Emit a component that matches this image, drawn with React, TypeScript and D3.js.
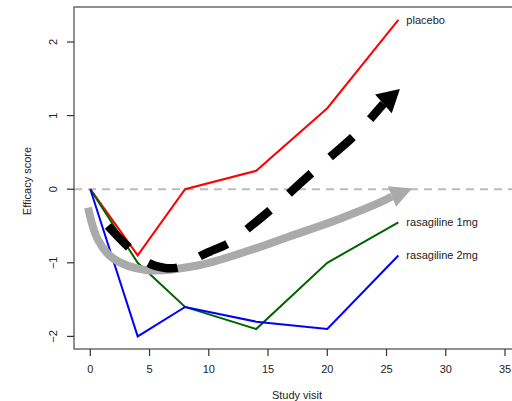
import React from "react";
import * as d3 from "d3";

const visits = [0, 4, 8, 14, 20, 26];
const placebo = [0, -0.9, 0, 0.25, 1.1, 2.3];
const rasagiline1 = [0, -1.0, -1.6, -1.9, -1.0, -0.45];
const rasagiline2 = [0, -2.0, -1.6, -1.8, -1.9, -0.9];
const seriesNames = ["placebo", "rasagiline 1mg", "rasagiline 2mg"];
const seriesColors = ["#ff0000", "#006400", "#0000ff"];
const xTicks = [0, 5, 10, 15, 20, 25, 30, 35];
const yTicks = [-2, -1, 0, 1, 2];

// annotation arrows, in data coordinates (visit, score)
const grayArrowPath: [number, number][] = [
  [-0.19, -0.25], [0.65, -0.69], [1.92, -0.94], [4.79, -1.1], [9.26, -1.03],
  [13.48, -0.83], [16.85, -0.64], [21.07, -0.4], [24.45, -0.18], [25.46, -0.1],
];
const grayArrowTip: [number, number] = [27.15, 0.01];
const blackArrowPath: [number, number][] = [
  [1.49, -0.5], [3.18, -0.78], [4.87, -1.0], [6.3, -1.07], [7.49, -1.06],
  [9.51, -0.89], [11.81, -0.72], [13.48, -0.51], [15.5, -0.24], [18.96, 0.26],
  [22.5, 0.76], [24.74, 1.16],
];
const blackArrowTip: [number, number] = [26.13, 1.36];

const W = 512, H = 401;
const box = { left: 74, top: 7, right: 534, bottom: 349 };
const x = d3.scaleLinear().domain([0, 35]).range([90.3, 505]);
const y = d3.scaleLinear().domain([-2, 2]).range([336.4, 42]);
const font = "Liberation Sans, Arial, Helvetica, sans-serif";

function head(base: [number, number], tip: [number, number], hw: number) {
  const bx = x(base[0]), by = y(base[1]), tx = x(tip[0]), ty = y(tip[1]);
  const dx = tx - bx, dy = ty - by;
  const L = Math.hypot(dx, dy);
  const px = -dy / L, py = dx / L;
  return `${tx},${ty} ${bx + px * hw},${by + py * hw} ${bx - px * hw},${by - py * hw}`;
}

export default function App() {
  const line = d3.line<number>().x((_, i) => x(visits[i])).y((d) => y(d));
  const curve = d3
    .line<[number, number]>()
    .x((d) => x(d[0]))
    .y((d) => y(d[1]))
    .curve(d3.curveCatmullRom.alpha(0.5));
  const data = [placebo, rasagiline1, rasagiline2];
  return (
    <svg width={W} height={H} style={{ position: "absolute", left: 0, top: 0, background: "#fff" }}>
      <defs>
        <clipPath id="plotclip">
          <rect x={box.left} y={box.top} width={box.right - box.left} height={box.bottom - box.top} />
        </clipPath>
      </defs>
      <g clipPath="url(#plotclip)">
        <line x1={box.left} x2={box.right} y1={y(0)} y2={y(0)} stroke="#bdbdbd" strokeWidth={2} strokeDasharray="8 6" />
        {data.map((s, i) => (
          <path key={i} d={line(s) || ""} fill="none" stroke={seriesColors[i]} strokeWidth={2} />
        ))}
        <path d={curve(grayArrowPath) || ""} fill="none" stroke="#aaaaaa" strokeWidth={8} />
        <polygon points={head(grayArrowPath[grayArrowPath.length - 1], grayArrowTip, 11)} fill="#aaaaaa" />
        <path d={curve(blackArrowPath) || ""} fill="none" stroke="#000" strokeWidth={8.5} strokeDasharray="30 25" />
        <polygon points={head(blackArrowPath[blackArrowPath.length - 1], blackArrowTip, 12.5)} fill="#000" />
      </g>
      {data.map((s, i) => (
        <text key={i} x={x(visits[visits.length - 1]) + 8} y={y(s[s.length - 1])} dy="0.35em"
          fontFamily={font} fontSize={11} fill="#222">{seriesNames[i]}</text>
      ))}
      <rect x={box.left} y={box.top} width={box.right - box.left} height={box.bottom - box.top}
        fill="none" stroke="#555" strokeWidth={1.3} />
      {xTicks.map((t) => (
        <g key={t}>
          <line x1={x(t)} x2={x(t)} y1={box.bottom} y2={box.bottom + 7} stroke="#333" strokeWidth={1.2} />
          <text x={x(t)} y={369} dy="0.35em" textAnchor="middle" fontFamily={font} fontSize={11} fill="#222">{t}</text>
        </g>
      ))}
      {yTicks.map((t) => (
        <g key={t}>
          <line x1={box.left - 7} x2={box.left} y1={y(t)} y2={y(t)} stroke="#333" strokeWidth={1.2} />
          <text transform={`translate(53,${y(t)}) rotate(-90)`} dy="0.35em" textAnchor="middle"
            fontFamily={font} fontSize={11} fill="#222">{t < 0 ? "\u2212" + Math.abs(t) : t}</text>
        </g>
      ))}
      <text x={297} y={395} dy="0.35em" textAnchor="middle" fontFamily={font} fontSize={11} fill="#222">Study visit</text>
      <text transform={`translate(27,181) rotate(-90)`} dy="0.35em" textAnchor="middle" fontFamily={font}
        fontSize={11} fill="#222">Efficacy score</text>
    </svg>
  );
}
